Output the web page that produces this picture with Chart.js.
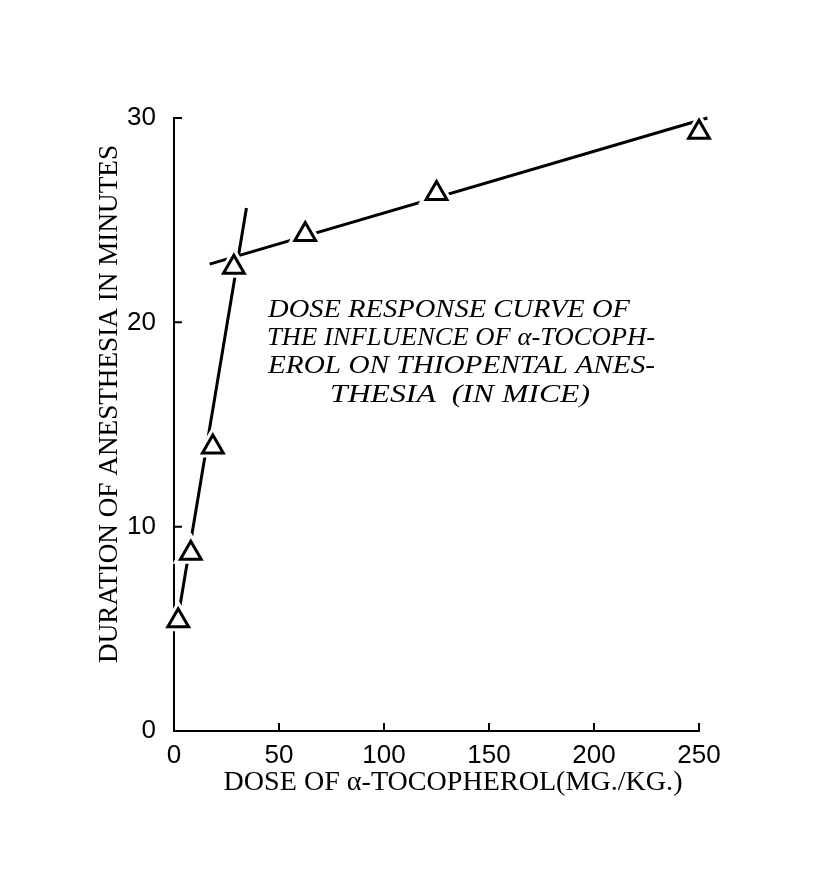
<!DOCTYPE html>
<html><head><meta charset="utf-8">
<script src="https://cdn.jsdelivr.net/npm/chart.js@4.4.1/dist/chart.umd.min.js"></script>
<style>html,body{margin:0;padding:0;background:#fff;overflow:hidden}#wrap{width:827px;height:882px}</style>
</head><body><div id="wrap"><canvas id="c" width="827" height="882"></canvas></div>
<script>
// ---- data ----
const doses = [2, 8, 18.5, 28.5, 62.5, 125, 250];
const durations = [5.4, 8.7, 13.9, 22.7, 24.3, 26.3, 29.3];
const steepFitDoses = [2, 34.5];
const steepFitDurations = [5.6, 25.6];
const flatFitDoses = [17, 254];
const flatFitDurations = [22.85, 30.0];
const xTicks = [0, 50, 100, 150, 200, 250];
const yTicks = [0, 10, 20, 30];
const xTitle = 'DOSE OF α-TOCOPHEROL(MG./KG.)';
const yTitle = 'DURATION OF ANESTHESIA IN MINUTES';
const noteLines = ['DOSE RESPONSE CURVE OF', 'THE INFLUENCE OF α-TOCOPH-', 'EROL ON THIOPENTAL ANES-', 'THESIA  (IN MICE)'];

const zip = (xs, ys) => xs.map((x, i) => ({x: x, y: ys[i]}));
const points = zip(doses, durations);

function fitted(ctx, text, x, y, w, align, rot) {
  ctx.save();
  ctx.translate(x, y);
  if (rot) ctx.rotate(rot);
  const m = ctx.measureText(text).width;
  ctx.scale(w / m, 1);
  ctx.textAlign = align;
  ctx.fillText(text, 0, 0);
  ctx.restore();
}

const decor = {
  id: 'decor',
  beforeDatasetsDraw(chart) {
    const {ctx, chartArea, scales} = chart;
    ctx.save();
    ctx.strokeStyle = '#000';
    ctx.lineWidth = 2;
    ctx.beginPath();
    xTicks.forEach(v => { if (v === 0) return; const p = scales.x.getPixelForValue(v); ctx.moveTo(p, chartArea.bottom); ctx.lineTo(p, chartArea.bottom - 8); });
    yTicks.forEach(v => { if (v === 0) return; const p = scales.y.getPixelForValue(v); ctx.moveTo(chartArea.left, p); ctx.lineTo(chartArea.left + 8, p); });
    ctx.stroke();
    ctx.restore();
  },
  afterDraw(chart) {
    const ctx = chart.ctx;
    ctx.save();
    ctx.fillStyle = '#000';
    ctx.textBaseline = 'middle';
    ctx.font = '27px "Liberation Serif"';
    fitted(ctx, xTitle, 453, 783, 459, 'center', 0);
    fitted(ctx, yTitle, 110, 404, 518, 'center', -Math.PI / 2);
    ctx.font = 'italic 26px "Liberation Serif"';
    fitted(ctx, noteLines[0], 268, 310, 362, 'left', 0);
    fitted(ctx, noteLines[1], 267, 338, 388, 'left', 0);
    fitted(ctx, noteLines[2], 268, 366, 387, 'left', 0);
    fitted(ctx, noteLines[3], 460, 395, 260, 'center', 0);
    ctx.restore();
  }
};

const tickFont = {family: '"Liberation Sans", sans-serif', size: 26};

new Chart(document.getElementById('c'), {
  type: 'scatter',
  data: {
    datasets: [
      {type: 'line', data: zip(steepFitDoses, steepFitDurations), borderColor: '#000', borderWidth: 3, pointRadius: 0, fill: false, clip: false, order: 4},
      {type: 'line', data: zip(flatFitDoses, flatFitDurations), borderColor: '#000', borderWidth: 3, pointRadius: 0, fill: false, clip: false, order: 4},
      {data: points, pointStyle: 'triangle', pointRadius: 12, borderColor: '#fff', pointBorderWidth: 9, backgroundColor: '#fff', clip: false, order: 2},
      {data: points, pointStyle: 'triangle', pointRadius: 12, borderColor: '#000', pointBorderWidth: 3, backgroundColor: '#fff', clip: false, order: 1}
    ]
  },
  options: {
    responsive: false,
    animation: false,
    devicePixelRatio: 1,
    layout: {padding: {left: 0, right: 128, top: 118, bottom: 0}},
    plugins: {legend: {display: false}, tooltip: {enabled: false}},
    scales: {
      x: {
        type: 'linear', min: 0, max: 250,
        afterBuildTicks: s => { s.ticks = xTicks.map(v => ({value: v})); },
        afterFit: s => { s.height = 151; },
        grid: {display: false},
        border: {display: true, color: '#000', width: 2},
        ticks: {color: '#000', font: tickFont, padding: 1, maxRotation: 0, autoSkip: false}
      },
      y: {
        type: 'linear', min: 0, max: 30,
        afterBuildTicks: s => { s.ticks = yTicks.map(v => ({value: v})); },
        afterFit: s => { s.width = 174; },
        grid: {display: false},
        border: {display: true, color: '#000', width: 2},
        ticks: {color: '#000', font: tickFont, padding: 10, autoSkip: false}
      }
    }
  },
  plugins: [decor]
});
</script></body></html>
